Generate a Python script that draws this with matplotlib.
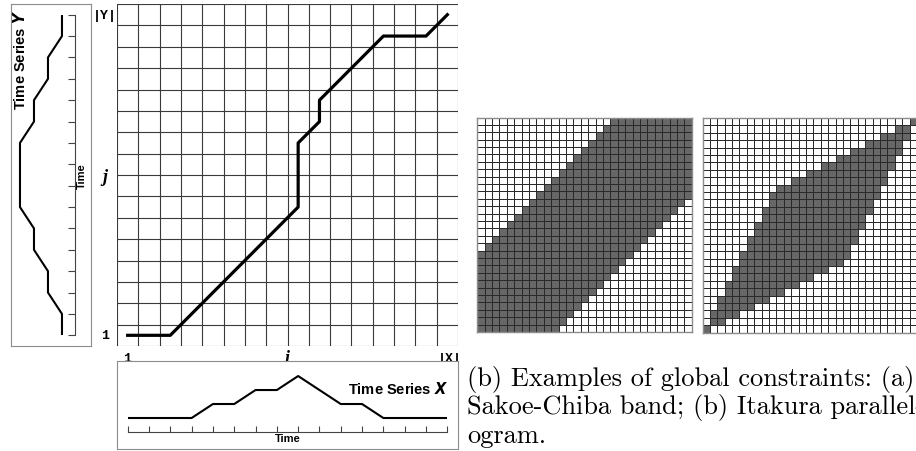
import matplotlib
matplotlib.use('Agg')
import matplotlib.pyplot as plt
from matplotlib.colors import ListedColormap
import numpy as np

# data
x_series = [0, 0, 0, 0, 1, 1, 2, 2, 3, 2, 1, 1, 0, 0, 0, 0]
y_series = [0, 0, 1, 1, 2, 2, 3, 3, 3, 3, 2, 2, 1, 1, 0, 0]
path_i = [1, 3, 9, 9, 10, 10, 13, 15, 16]
path_j = [1, 1, 7, 10, 11, 12, 15, 15, 16]

n_cells = 29
# filled columns per row (row 0 = bottom), first and last
sakoe_start = [0, 0, 0, 0, 0, 0, 0, 0, 0, 0, 0, 1, 2, 3, 4, 5, 6, 7, 8, 9, 10, 11, 12, 13, 14, 15, 16, 17, 18]
sakoe_end = [10, 11, 12, 13, 14, 15, 16, 17, 18, 19, 20, 21, 22, 23, 24, 25, 26, 27, 28, 28, 28, 28, 28, 28, 28, 28, 28, 28, 28]
itakura_start = [0, 1, 1, 2, 2, 3, 3, 4, 4, 5, 5, 6, 6, 7, 7, 8, 8, 9, 9, 10, 12, 14, 16, 18, 20, 22, 24, 26, 28]
itakura_end = [0, 2, 4, 6, 8, 10, 12, 14, 16, 18, 19, 19, 20, 20, 21, 21, 22, 22, 23, 23, 24, 24, 25, 25, 26, 26, 27, 27, 28]

caption = ['(b) Examples of global constraints: (a)',
           'Sakoe-Chiba band; (b) Itakura parallel-',
           'ogram.']

W, H = 916, 452
fig = plt.figure(figsize=(W / 100, H / 100), dpi=100)


def box(x0, y0, x1, y1):
    return [x0 / W, 1 - y1 / H, (x1 - x0) / W, (y1 - y0) / H]


grid_col = '#3a3a3a'
frame_col = '#8c8c8c'
axis_col = '#444444'

# main warping grid
ax = fig.add_axes(box(117, 5, 458, 347))
ax.set_xlim(0.5, 16.5)
ax.set_ylim(0.5, 16.5)
for k in np.arange(0.5, 17, 1):
    ax.axvline(k, color=grid_col, lw=0.8)
    ax.axhline(k, color=grid_col, lw=0.8)
ax.plot(path_i, path_j, color='black', lw=2.3)
ax.set_xticks([])
ax.set_yticks([])
for s in ax.spines.values():
    s.set_visible(False)

mono = dict(family='Liberation Mono', weight='bold', fontsize=9.5)
ital = dict(family='Liberation Serif', weight='bold', style='italic', fontsize=13)
ax.text(-0.07, 16, '|Y|', ha='center', va='center', **mono)
ax.text(-0.07, 1, '1', ha='center', va='center', **mono)
ax.text(-0.07, 8.45, 'j', ha='center', va='center', **ital)
ax.text(0.95, -0.05, '1', ha='center', va='center', **mono)
ax.text(8.47, -0.05, 'i', ha='center', va='center', **ital)
ax.text(16.1, -0.05, '|X|', ha='center', va='center', **mono)

# time series Y (left)
fy = fig.add_axes(box(11, 5, 91, 347))
fy.set_xticks([])
fy.set_yticks([])
for s in fy.spines.values():
    s.set_color(frame_col)
fy.text(0.115, 0.985, 'Time Series $\\boldsymbol{Y}$', rotation=90, ha='center', va='top',
        transform=fy.transAxes, family='Liberation Sans', weight='bold', fontsize=10.5)

ay = fig.add_axes(box(12, 15.7, 75, 336.3))
ay.patch.set_visible(False)
ay.plot(y_series, range(1, 17), color='black', lw=1.5)
ay.set_ylim(1, 16)
ay.set_xlim(3.57, -0.93)
for side in ['left', 'top', 'bottom']:
    ay.spines[side].set_visible(False)
ay.spines['right'].set_color(axis_col)
ay.yaxis.tick_right()
ay.set_yticks(range(1, 17))
ay.set_xticks([])
ay.tick_params(axis='y', direction='in', length=4.8, width=0.8, color=axis_col, labelright=False)
ay.yaxis.set_label_position('right')
ay.set_ylabel('Time', rotation=90, family='Liberation Sans', weight='bold', fontsize=8, labelpad=1.5)

# time series X (bottom)
fx = fig.add_axes(box(117, 362, 458, 450))
fx.set_xticks([])
fx.set_yticks([])
for s in fx.spines.values():
    s.set_color(frame_col)
fx.text(0.97, 0.69, 'Time Series $\\boldsymbol{X}$', ha='right', va='center',
        transform=fx.transAxes, family='Liberation Sans', weight='bold', fontsize=10.5)

axx = fig.add_axes(box(127.7, 365, 447.3, 433))
axx.patch.set_visible(False)
axx.plot(range(1, 17), x_series, color='black', lw=1.5)
axx.set_xlim(1, 16)
axx.set_ylim(-1, 3.86)
for side in ['left', 'top', 'right']:
    axx.spines[side].set_visible(False)
axx.spines['bottom'].set_color(axis_col)
axx.set_xticks(range(1, 17))
axx.set_yticks([])
axx.tick_params(axis='x', direction='in', length=4.3, width=0.8, color=axis_col, labelbottom=False)
axx.set_xlabel('Time', family='Liberation Sans', weight='bold', fontsize=8, labelpad=1)


# global constraint grids
def band_mask(starts, ends):
    m = np.zeros((n_cells, n_cells))
    for j, (a, b) in enumerate(zip(starts, ends)):
        m[j, a:b + 1] = 1
    return m


cmap = ListedColormap(['white', '#676767'])
for pos, starts, ends in [(box(477.3, 118.5, 691.7, 333), sakoe_start, sakoe_end),
                          (box(702.5, 119, 917, 333.5), itakura_start, itakura_end)]:
    g = fig.add_axes(pos)
    g.pcolormesh(band_mask(starts, ends), cmap=cmap, vmin=0, vmax=1,
                 edgecolors='#2a2a2a', linewidth=0.7)
    g.set_xlim(0, n_cells)
    g.set_ylim(0, n_cells)
    g.set_xticks([])
    g.set_yticks([])
    for s in g.spines.values():
        s.set_color(frame_col)
        s.set_linewidth(1.0)

for k, line in enumerate(caption):
    fig.text(467 / W, 1 - (386 + 28.5 * k) / H, line, family='cmr10', fontsize=19,
             ha='left', va='baseline')

fig.savefig('out.png', dpi=100)
